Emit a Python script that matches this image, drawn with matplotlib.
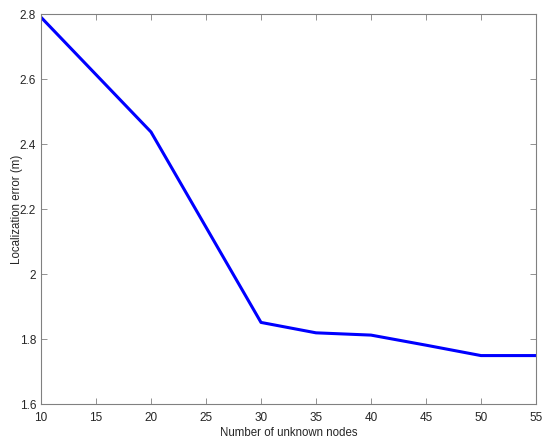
import matplotlib
matplotlib.use("Agg")
import matplotlib.pyplot as plt

nodes = [10, 20, 30, 35, 40, 45, 50, 55]
error = [2.79, 2.437, 1.851, 1.819, 1.812, 1.781, 1.749, 1.749]
xticks = [10, 15, 20, 25, 30, 35, 40, 45, 50, 55]
yticks = [1.6, 1.8, 2.0, 2.2, 2.4, 2.6, 2.8]
ytick_labels = ["1.6", "1.8", "2", "2.2", "2.4", "2.6", "2.8"]

plt.rcParams['font.family'] = ['Liberation Sans', 'DejaVu Sans']
fig = plt.figure(figsize=(5.5, 4.46), dpi=100)
ax = fig.add_axes([41/550, 42/446, 495/550, 390/446])
ax.plot(nodes, error, color=(0, 0, 1), linewidth=2.2)
ax.set_xlim(10, 55)
ax.set_ylim(1.6, 2.8)
ax.set_xticks(xticks)
ax.set_yticks(yticks)
ax.set_yticklabels(ytick_labels)
ax.tick_params(direction='in', top=True, right=True, length=4, width=0.6,
               color='#808080', labelsize=8.5, labelcolor='#262626')
ax.tick_params(axis='x', pad=6)
ax.tick_params(axis='y', pad=3.5)
for s in ax.spines.values():
    s.set_color('#808080')
    s.set_linewidth(0.8)
ax.set_xlabel("Number of unknown nodes", fontsize=8.3, color='#262626')
ax.set_ylabel("Localization error (m)", fontsize=8.3, color='#262626')
ax.xaxis.set_label_coords(0.5, (404 - 433) / 390)
ax.yaxis.set_label_coords((17 - 41) / 495, 0.5)
ax.xaxis.label.set_va('center')
ax.yaxis.label.set_va('center')
fig.savefig("out.png", dpi=100)
